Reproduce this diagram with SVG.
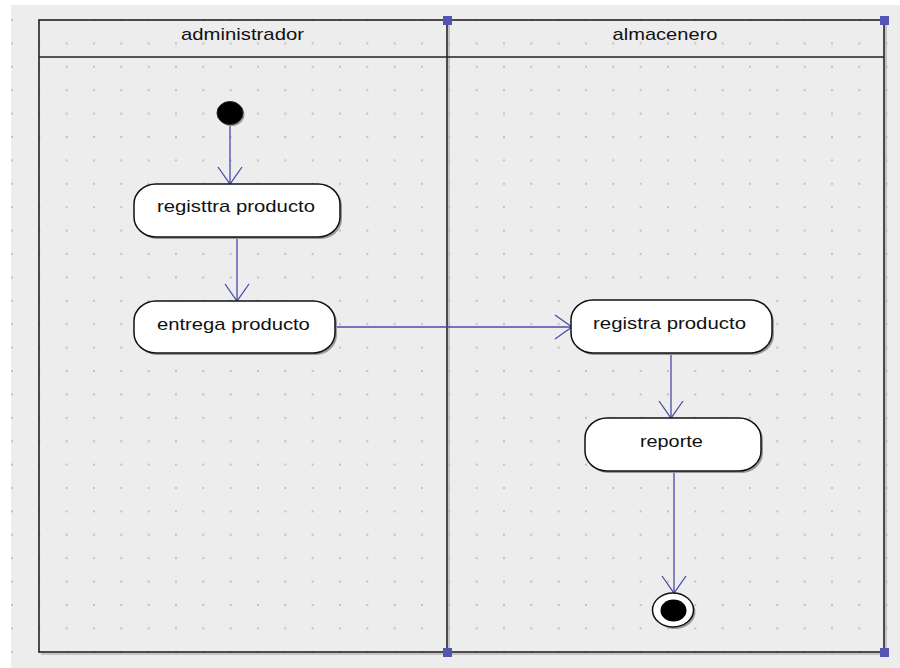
<svg xmlns="http://www.w3.org/2000/svg" width="900" height="668" viewBox="0 0 900 668">
  <style>
    .lane { fill: none; stroke: #222; stroke-width: 1.6; }
    .lane-shadow { fill: none; stroke: #b8b8b8; stroke-width: 1.6; }
    .handle { fill: #5454b4; }
    .label { font-family: "Liberation Sans", Arial, sans-serif; font-size: 17px; fill: #111; text-anchor: middle; }
    .action { fill: #fff; stroke: #111; stroke-width: 1.5; }
    .shadow { fill: #9a9a9a; }
    .flow { fill: none; stroke: #4a4aaa; stroke-width: 1.3; marker-end: url(#open-arrow); }
  </style>
  <defs>
    <pattern id="grid-dots" patternUnits="userSpaceOnUse" x="11" y="19" width="27.333" height="23.4">
      <rect x="0" y="0" width="2" height="2" fill="#c2c2c2"/>
    </pattern>
    <marker id="open-arrow" markerUnits="userSpaceOnUse" markerWidth="20" markerHeight="28" refX="18" refY="13" orient="auto">
      <path d="M1,1 L18,13 L1,25" fill="none" stroke="#4a4aaa" stroke-width="1.3"/>
    </marker>
  </defs>

  <!-- canvas -->
  <rect x="0" y="0" width="900" height="668" fill="#ffffff"/>
  <rect x="11" y="5" width="889" height="663" fill="#ededed"/>
  <rect x="11" y="5" width="889" height="663" fill="url(#grid-dots)"/>

  <!-- swimlanes -->
  <g id="swimlanes">
    <path class="lane-shadow" d="M41,654 H886 M449,22 V654 M886,22 V654"/>
    <rect class="lane" x="39" y="20" width="845" height="632"/>
    <line class="lane" x1="39" y1="57" x2="884" y2="57"/>
    <line class="lane" x1="447" y1="20" x2="447" y2="652"/>
    <text class="label" x="242.5" y="40" textLength="123" lengthAdjust="spacingAndGlyphs">administrador</text>
    <text class="label" x="665" y="40" textLength="105" lengthAdjust="spacingAndGlyphs">almacenero</text>
    <rect class="handle" x="443" y="16" width="9" height="9"/>
    <rect class="handle" x="880" y="16" width="9" height="9"/>
    <rect class="handle" x="443" y="648" width="9" height="9"/>
    <rect class="handle" x="880" y="648" width="9" height="9"/>
  </g>

  <!-- connectors -->
  <g id="connectors">
    <line class="flow" x1="230" y1="125" x2="230" y2="184"/>
    <line class="flow" x1="237" y1="237" x2="237" y2="301"/>
    <line class="flow" x1="331" y1="327" x2="572" y2="327"/>
    <line class="flow" x1="671" y1="353" x2="671" y2="418"/>
    <line class="flow" x1="674" y1="472" x2="674" y2="593"/>
  </g>

  <!-- initial node -->
  <g id="start">
    <ellipse class="shadow" cx="231.5" cy="114.5" rx="13" ry="11.5"/>
    <ellipse cx="230" cy="113" rx="13" ry="11.5" fill="#000" stroke="#222" stroke-width="1"/>
  </g>

  <g id="registtra-producto">
    <rect class="shadow" x="136" y="186" width="206" height="53" rx="22" ry="20"/>
    <rect class="action" x="134" y="184" width="206" height="53" rx="22" ry="20"/>
    <text class="label" x="236" y="212" textLength="158" lengthAdjust="spacingAndGlyphs">registtra producto</text>
  </g>

  <g id="entrega-producto">
    <rect class="shadow" x="136" y="303" width="201" height="52" rx="22" ry="20"/>
    <rect class="action" x="134" y="301" width="201" height="52" rx="22" ry="20"/>
    <text class="label" x="233.4" y="330" textLength="153" lengthAdjust="spacingAndGlyphs">entrega producto</text>
  </g>

  <g id="registra-producto">
    <rect class="shadow" x="573" y="302" width="201" height="53" rx="22" ry="20"/>
    <rect class="action" x="571" y="300" width="201" height="53" rx="22" ry="20"/>
    <text class="label" x="669.5" y="329" textLength="153" lengthAdjust="spacingAndGlyphs">registra producto</text>
  </g>

  <g id="reporte">
    <rect class="shadow" x="587" y="420" width="176" height="53" rx="22" ry="20"/>
    <rect class="action" x="585" y="418" width="176" height="53" rx="22" ry="20"/>
    <text class="label" x="671.4" y="446.5" textLength="63" lengthAdjust="spacingAndGlyphs">reporte</text>
  </g>

  <!-- final node -->
  <g id="end">
    <ellipse class="shadow" cx="675" cy="612" rx="20.5" ry="17"/>
    <ellipse cx="673" cy="610" rx="20.5" ry="17" fill="#fff" stroke="#111" stroke-width="1.5"/>
    <ellipse cx="673.5" cy="610.5" rx="13" ry="11" fill="#000"/>
  </g>
</svg>
